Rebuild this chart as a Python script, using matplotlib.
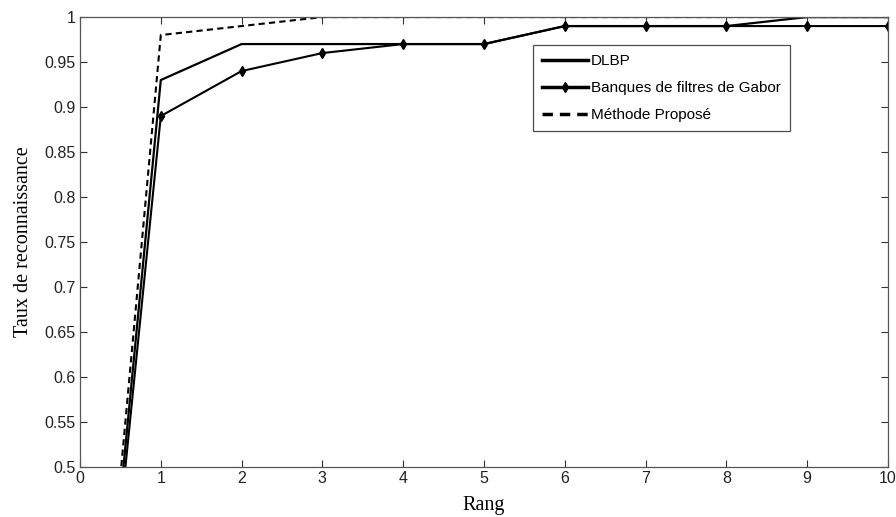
import numpy as np
import matplotlib
matplotlib.use("Agg")
import matplotlib.pyplot as plt

rang = [0, 1, 2, 3, 4, 5, 6, 7, 8, 9, 10]
dlbp = [0, 0.93, 0.97, 0.97, 0.97, 0.97, 0.99, 0.99, 0.99, 1.0, 1.0]
gabor = [0, 0.89, 0.94, 0.96, 0.97, 0.97, 0.99, 0.99, 0.99, 0.99, 0.99]
propose = [0, 0.98, 0.99, 1.0, 1.0, 1.0, 1.0, 1.0, 1.0, 1.0, 1.0]

xticks = list(range(0, 11))
yticks = [0.5, 0.55, 0.6, 0.65, 0.7, 0.75, 0.8, 0.85, 0.9, 0.95, 1.0]
ytick_labels = ["0.5", "0.55", "0.6", "0.65", "0.7", "0.75", "0.8", "0.85", "0.9", "0.95", "1"]

fig = plt.figure(figsize=(8.96, 5.17), dpi=100)
ax = fig.add_axes([0.0893, 0.0967, 0.9017, 0.8703])

ax.plot(rang, dlbp, color="black", lw=1.6, label="DLBP")
ax.plot(rang, gabor, color="black", lw=1.5, marker="d", ms=5, label="Banques de filtres de Gabor")
ax.plot(rang, propose, color="black", lw=1.5, ls=(0, (3, 2)), label="Méthode Proposé")

ax.set_xlim(0, 10)
ax.set_ylim(0.5, 1.0)
ax.set_xticks(xticks)
ax.set_yticks(yticks)
ax.set_yticklabels(ytick_labels)
ax.tick_params(direction="in", top=True, right=True, length=5, width=0.8,
               labelsize=11.5, colors="#333333", labelcolor="#222222", pad=3)
for lab in ax.get_xticklabels() + ax.get_yticklabels():
    lab.set_family("Liberation Sans")
for sp in ax.spines.values():
    sp.set_color("#555555")
    sp.set_linewidth(0.9)

ax.set_ylabel("Taux de reconnaissance", family="Liberation Serif", fontsize=14.5, labelpad=8)
ax.set_xlabel("Rang", family="Liberation Serif", fontsize=14.5, labelpad=7)

leg = ax.legend(loc="upper left", bbox_to_anchor=(0.5606, 0.938), frameon=True, fancybox=False,
                edgecolor="#222222", borderpad=0.6, borderaxespad=0, handlelength=3.0,
                handletextpad=0.2, labelspacing=0.85,
                prop={"family": "Liberation Sans", "size": 11})
leg.get_frame().set_linewidth(0.9)
for ln in leg.get_lines():
    ln.set_linewidth(2.5)

fig.savefig("out.png", dpi=100)
